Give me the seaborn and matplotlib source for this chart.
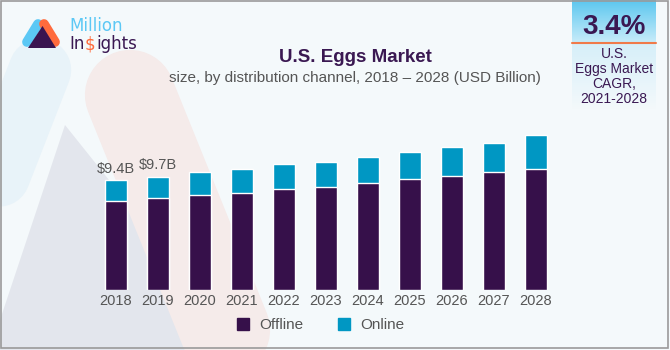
import matplotlib
matplotlib.use("Agg")
import matplotlib.pyplot as plt
import seaborn as sns
import numpy as np
import pandas as pd
from matplotlib.patches import Polygon, Rectangle
from matplotlib.colors import LinearSegmentedColormap
from matplotlib.lines import Line2D

# Data (USD Billion)
years = ['2018', '2019', '2020', '2021', '2022', '2023', '2024', '2025', '2026', '2027', '2028']
offline = [7.63, 7.84, 8.15, 8.32, 8.66, 8.80, 9.17, 9.51, 9.74, 10.09, 10.34]
online = [1.77, 1.86, 1.96, 1.99, 2.11, 2.14, 2.22, 2.28, 2.45, 2.47, 2.91]
labels = {'2018': '$9.4B', '2019': '$9.7B'}

df = pd.DataFrame({'year': years, 'offline': offline, 'online': online})
df['total'] = df['offline'] + df['online']

c_off = '#36104a'
c_on = '#0097c3'
c_txt = '#555555'
c_purple = '#3a1852'

sns.set_theme(style='white')
plt.rcParams['font.family'] = ['Liberation Sans', 'DejaVu Sans']

fig = plt.figure(figsize=(6.7, 3.5), dpi=100)
fig.patch.set_facecolor('#f4f9fb')

# background decoration, pixel coords
bg = fig.add_axes([0, 0, 1, 1], zorder=0)
bg.axis('off')
bg.plot([-30, 40], [250, 70], color='#e8f3f9', lw=45, solid_capstyle='round')
bg.plot([130, 225], [95, 330], color='#f5ebea', lw=65, solid_capstyle='round')
bg.add_patch(Polygon([[-10, 350], [65, 125], [245, 350]], closed=True, color='#e3e6ed', lw=0))

# KPI box on the right
g = np.linspace(0, 1, 50).reshape(-1, 1)
bg.imshow(g, extent=[572, 656, 43, 0], aspect='auto', zorder=1,
          cmap=LinearSegmentedColormap.from_list('t', ['#5cc7ef', '#c8ecfa']))
bg.imshow(g, extent=[572, 656, 110, 43], aspect='auto', zorder=1,
          cmap=LinearSegmentedColormap.from_list('b', ['#d6eff9', '#f4f9fb']))
bg.set_xlim(0, 670)
bg.set_ylim(350, 0)
bg.plot([572, 656], [43, 43], color='#f07a4a', lw=1.5, zorder=2)
bg.text(614, 27, '3.4%', ha='center', va='center', fontsize=20, fontweight='bold', color=c_purple, zorder=3)
for yy, s in zip([54, 69, 84, 99], ['U.S.', 'Eggs Market', 'CAGR,', '2021-2028']):
    bg.text(614, yy, s, ha='center', va='center', fontsize=10, color=c_purple, zorder=3)
bg.add_patch(Rectangle((1, 1), 667, 347, fill=False, ec='#9a9a9a', lw=1.2, zorder=4))

# logo
bg.plot([27, 38], [42, 24], color='#5cc8f5', lw=7, solid_capstyle='round', zorder=3)
bg.plot([44, 55], [24, 42], color='#ff6b3d', lw=7, solid_capstyle='round', zorder=3)
bg.add_patch(Polygon([[28, 48], [42.5, 26], [56, 48]], closed=True, color='#3a1450', lw=0, zorder=4))
bg.text(69, 26, 'Million', ha='left', va='center', fontsize=12, color='#5cc8f5',
        family=['DejaVu Sans'], zorder=3)
t1 = bg.text(69, 44, 'In', ha='left', va='center', fontsize=12, color=c_purple, family=['DejaVu Sans'], zorder=3)
fig.canvas.draw()
r = fig.canvas.get_renderer()
inv = bg.transData.inverted()
x1 = inv.transform(t1.get_window_extent(r))[1][0] + 0.5
t2 = bg.text(x1, 44, '$', ha='left', va='center', fontsize=12, color='#ff6b3d', family=['DejaVu Sans'], zorder=3)
x2 = inv.transform(t2.get_window_extent(r))[1][0] + 0.5
bg.text(x2, 44, 'ights', ha='left', va='center', fontsize=12, color=c_purple, family=['DejaVu Sans'], zorder=3)

# titles
fig.text(355 / 670, 1 - 57 / 350, 'U.S. Eggs Market', ha='center', va='center', fontsize=13.5,
         fontweight='bold', color=c_purple)
fig.text(355 / 670, 1 - 78 / 350, 'size, by distribution channel, 2018 \u2013 2028 (USD Billion)', ha='center',
         va='center', fontsize=11, color=c_txt)

# stacked bars: total (online on top) then offline over it
ax = fig.add_axes([95 / 670, 1 - 290 / 350, 462 / 670, (290 - 126.2) / 350], zorder=1)
ax.patch.set_alpha(0)
sns.barplot(data=df, x='year', y='total', color=c_on, width=0.53, saturation=1, ax=ax)
sns.barplot(data=df, x='year', y='offline', color=c_off, width=0.53, saturation=1, ax=ax)
ax.set_ylim(0, 14)
ax.set_xlim(-0.5, 10.5)
ax.set_xlabel('')
ax.set_ylabel('')
ax.set_yticks([])
sns.despine(ax=ax, left=True, bottom=True)
ax.tick_params(axis='x', length=0, pad=3, labelsize=10.5, labelcolor=c_txt)
for i, y in enumerate(years):
    if y in labels:
        ax.text(i, df['total'][i] + 0.35, labels[y], ha='center', va='bottom', fontsize=10.5, color=c_txt)

handles = [Line2D([], [], marker='s', ls='', color=c_off, markersize=9),
           Line2D([], [], marker='s', ls='', color=c_on, markersize=9)]
fig.legend(handles, ['Offline', 'Online'], loc='center', bbox_to_anchor=(316 / 670, 1 - 325 / 350), ncol=2,
           frameon=False, fontsize=11, handletextpad=0.1, columnspacing=1.6, labelcolor=c_txt)

fig.savefig('out.png', dpi=100, facecolor=fig.get_facecolor())
